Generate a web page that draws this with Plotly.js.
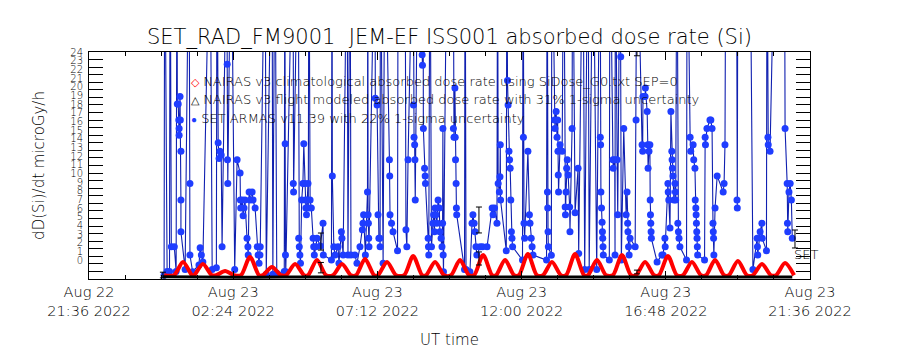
<!DOCTYPE html>
<html><head><meta charset="utf-8">
<script src="https://cdn.plot.ly/plotly-3.0.1.min.js"></script>
<style>html,body{margin:0;padding:0;background:#fff}</style>
</head><body><div id="chart" style="width:900px;height:350px"></div>
<script>
// x axis: hours since Aug 22 21:36 UT
const xTickHours = [0, 4.8, 9.6, 14.4, 19.2, 24];
const xTickLabels = ["Aug 22<br>21:36 2022", "Aug 23<br>02:24 2022", "Aug 23<br>07:12 2022",
                     "Aug 23<br>12:00 2022", "Aug 23<br>16:48 2022", "Aug 23<br>21:36 2022"];
// y tick label positions (as drawn in the reference, labels squeezed between 2 and 24)
const yTickValues = [2.0,2.92,3.83,4.75,5.67,6.58,7.5,8.42,9.33,10.25,11.17,12.08,13.0,13.92,14.83,15.75,16.67,17.58,18.5,19.42,20.33,21.25,22.17,23.08,24.0];
const yTickLabels = ["0","1","2","3","4","5","6","7","8","9","10","11","12","13","14","15","16","17","18","19","20","21","22","23","24"];

// NAIRAS v3 climatological absorbed dose rate (red)
const climHours = [2.50,2.83,3.13,3.43,3.50,3.79,4.09,4.23,4.53,4.83,5.06,5.36,5.66,5.79,6.09,6.39,6.56,6.86,7.16,7.29,7.59,7.89,
  8.12,8.42,8.72,8.89,9.19,9.49,9.62,9.92,10.22,10.49,10.79,11.09,11.22,11.52,11.82,12.05,12.35,12.65,12.82,13.12,13.42,
  13.55,13.85,14.15,14.31,14.61,14.91,15.11,15.41,15.71,15.88,16.18,16.48,16.61,16.91,17.21,17.44,17.74,18.04,18.21,18.51,
  18.81,18.97,19.27,19.57,19.77,20.07,20.37,20.54,20.84,21.14,21.30,21.60,21.90,22.10,22.40,22.70,22.87,23.17,23.47];
const climDose = [0.4,0.4,1.8,0.4,0.4,1.59,0.4,0.4,0.85,0.4,0.4,2.33,0.4,0.4,1.27,0.4,0.4,1.59,0.4,0.4,2.0,0.4,
  0.4,1.59,0.4,0.4,2.11,0.4,0.4,1.8,0.4,0.4,2.43,0.4,0.4,1.8,0.4,0.4,2.0,0.4,0.4,2.54,0.4,
  0.4,2.0,0.4,0.4,2.64,0.4,0.4,1.8,0.4,0.4,2.64,0.4,0.4,2.0,0.4,0.4,2.54,0.4,0.4,1.8,
  0.4,0.4,2.43,0.4,0.4,1.8,0.4,0.4,2.0,0.4,0.4,1.9,0.4,0.4,1.59,0.4,0.4,1.69,0.4];

// NAIRAS v3 flight modeled absorbed dose rate (black)
const flightHours = [2.46,3.5,5.0,6.5,8.0,9.5,11.0,12.5,14.0,15.5,17.0,18.5,20.0,21.5,23.41];
const flightDose  = [0.25,0.2,0.18,0.2,0.22,0.18,0.2,0.22,0.2,0.18,0.2,0.22,0.2,0.18,0.2];

// SET ARMAS v11.39 (blue); 40 = off-scale readings above the plot top
const blueHours = [
  2.50,2.52,2.60,2.68,2.70,2.74,2.84,2.90,2.93,2.94,
  2.97,2.99,3.00,3.00,3.03,3.04,3.06,3.06,3.06,3.20,
  3.33,3.36,3.36,3.45,3.66,3.70,3.74,3.79,4.03,4.10,
  4.24,4.26,4.30,4.33,4.36,4.40,4.43,4.59,4.60,4.61,
  4.62,4.73,4.85,4.93,5.03,5.04,5.05,5.10,5.13,5.16,
  5.19,5.26,5.29,5.30,5.33,5.36,5.43,5.46,5.53,5.60,
  5.63,5.66,5.69,5.70,5.86,5.90,6.09,6.12,6.19,6.25,
  6.50,6.52,6.53,6.54,6.55,6.79,6.80,6.81,6.96,6.98,
  7.00,7.02,7.04,7.08,7.12,7.15,7.18,7.20,7.22,7.24,
  7.27,7.29,7.30,7.32,7.36,7.40,7.46,7.48,7.50,7.55,
  7.59,7.70,7.79,7.80,8.07,8.09,8.10,8.15,8.19,8.29,
  8.32,8.40,8.42,8.46,8.59,8.62,8.69,8.72,8.85,8.92,
  9.02,9.10,9.12,9.14,9.20,9.27,9.28,9.29,9.30,9.31,
  9.32,9.52,9.53,9.59,9.62,9.65,9.68,9.69,9.70,9.79,
  9.85,10.00,10.01,10.02,10.07,10.12,10.27,10.29,10.52,10.55,
  10.58,10.62,10.79,10.80,10.82,10.84,10.85,10.86,10.95,11.09,
  11.10,11.12,11.13,11.17,11.19,11.20,11.29,11.30,11.31,11.35,
  11.40,11.45,11.47,11.50,11.52,11.55,11.58,11.62,11.66,11.68,
  11.72,11.75,11.77,11.78,11.79,11.80,11.92,12.12,12.13,12.15,
  12.18,12.19,12.20,12.22,12.23,12.24,12.50,12.52,12.55,12.68,
  12.75,12.78,12.82,12.85,12.88,12.91,13.02,13.10,13.25,13.42,
  13.45,13.50,13.58,13.60,13.62,13.66,13.68,13.69,13.70,13.89,
  13.91,13.93,13.95,13.98,14.00,14.02,14.04,14.06,14.08,14.10,
  14.43,14.45,14.46,14.48,14.50,14.61,14.66,14.68,14.72,14.75,
  14.78,15.23,15.25,15.26,15.27,15.28,15.29,15.39,15.41,15.50,
  15.51,15.55,15.58,15.60,15.61,15.62,15.63,15.68,15.75,15.80,
  15.85,15.86,15.88,15.90,15.92,15.95,16.00,16.01,16.08,16.10,
  16.18,16.28,16.30,16.44,16.50,16.61,16.65,16.78,16.90,17.01,
  17.02,17.03,17.04,17.06,17.08,17.09,17.10,17.11,17.12,17.32,
  17.34,17.44,17.45,17.50,17.51,17.52,17.58,17.60,17.68,17.70,
  17.72,17.80,17.88,17.91,17.93,17.94,17.96,17.98,18.01,18.18,
  18.21,18.24,18.41,18.43,18.44,18.51,18.52,18.58,18.60,18.61,
  18.64,18.67,18.68,18.69,18.70,18.71,18.72,18.91,19.07,19.11,
  19.17,19.18,19.27,19.28,19.30,19.34,19.37,19.40,19.41,19.42,
  19.44,19.47,19.51,19.52,19.53,19.57,19.60,19.62,19.64,19.67,
  19.89,19.91,20.01,20.03,20.11,20.13,20.17,20.18,20.20,20.21,
  20.22,20.23,20.24,20.25,20.26,20.49,20.51,20.52,20.57,20.67,
  20.70,20.74,20.77,20.78,20.79,20.80,20.84,20.91,21.11,21.14,
  21.17,21.20,21.55,21.57,21.58,21.60,22.00,22.10,22.24,22.25,
  22.26,22.34,22.40,22.41,22.55,22.57,22.60,22.61,22.67,22.84,
  23.15,23.17,23.24,23.25,23.26,23.30,23.34,23.38,23.41];
const blueDose = [
  0.4,40,0.8,0.8,40,3.4,3.4,0.8,40,18.5,
  18.5,16.8,15.9,15.2,19.3,16.8,13.5,8.35,5.0,1.0,
  40,10.1,2.54,0.77,1.48,3.3,2.54,1.8,40,1.0,
  1.2,40,14.4,12.75,13.5,13.1,3.4,40,22.7,12.6,
  10.1,40,1.0,12.6,11.2,8.35,7.5,8.35,6.7,7.5,
  8.35,4.3,3.4,2.54,9.2,8.35,9.2,8.35,7.5,3.4,
  2.54,1.66,2.54,3.4,40,0.5,40,0.5,40,0.6,
  0.8,40,14.3,2.54,0.77,40,10.1,9.2,40,4.3,
  3.4,2.54,1.66,8.35,10.1,14.3,10.1,8.35,7.5,6.8,
  8.35,10.1,7.5,40,8.35,7.5,4.3,3.4,2.54,3.4,
  4.3,3.5,5.9,2.54,2.0,40,10.9,3.4,2.54,3.4,
  1.66,5.0,4.3,2.54,40,2.54,40,2.54,2.54,1.66,
  3.4,5.2,5.9,6.8,2.54,9.2,40,6.8,5.9,4.3,
  3.4,40,19.1,18.4,6.8,4.3,4.3,3.4,40,1.66,
  40,12.6,10.9,6.8,5.9,5.0,3.0,40,40,5.2,
  3.4,12.6,40,18.4,15.0,14.2,12.6,8.35,40,23.7,
  22.6,40,15.9,11.7,10.9,10.1,4.3,3.4,2.54,40,
  3.4,5.9,6.8,5.0,7.5,6.8,5.9,8.35,7.5,5.0,
  4.3,3.4,5.9,15.9,2.54,0.77,40,40,15.9,15.0,
  20.2,15.0,12.6,10.1,7.5,6.8,1.0,40,1.0,0.77,
  5.9,6.8,5.9,5.0,3.4,2.54,3.4,3.4,3.4,7.5,
  6.8,7.5,5.9,40,10.1,9.2,10.8,14.2,8.35,3.0,
  40,21.0,18.4,13.5,12.6,11.7,8.35,5.0,4.3,3.4,
  2.0,40,15.0,5.9,4.3,13.5,6.8,5.9,4.3,3.4,
  2.54,2.0,40,9.2,7.5,5.0,3.4,2.5,40,16.8,
  15.9,17.7,15.0,16.8,13.5,11.0,9.2,14.2,13.5,40,
  7.6,6.8,9.2,11.7,12.6,11.0,7.6,5.0,15.9,40,
  7.0,11.7,2.7,40,1.0,40,1.0,40,1.0,40,
  15.0,14.2,9.2,7.5,6.0,5.0,4.3,3.4,2.54,2.0,
  40,12.6,11.7,12.6,2.54,40,12.6,6.8,40,23.5,
  2.0,15.9,6.8,9.2,5.9,5.0,3.4,2.54,4.3,3.4,
  16.8,40,14.2,13.5,19.3,19.3,20.2,17.7,14.2,11.7,
  13.5,14.2,8.35,6.8,5.9,5.0,4.3,1.8,2.54,2.54,
  4.3,3.4,10.1,9.2,8.35,5.4,17.7,13.5,12.6,11.7,
  10.9,8.35,10.1,9.2,8.35,40,5.9,5.0,4.3,3.4,
  2.0,40,15.0,13.5,14.2,12.6,11.7,8.35,7.5,6.8,
  5.9,5.0,4.3,3.4,2.54,2.0,15.0,14.2,15.9,16.8,
  16.8,15.9,5.9,5.0,4.3,2.54,7.5,10.9,9.2,10.1,
  14.2,40,40,8.35,7.5,40,40,1.0,4.3,3.4,
  2.54,5.0,5.9,4.3,3.0,40,15.0,14.2,13.5,40,
  40,15.9,10.1,5.9,5.0,9.2,10.1,8.35,4.3];

// occasional 1-sigma uncertainty bars
const errHours = [2.46, 7.72, 7.72, 12.98, 12.98, 18.24, 18.24, 23.5];
const errDose  = [0.42, 3.96, 1.2, 6.24, 2.17, 0.74, 23.9, 4.23];
const errSigma = [0.3, 0.9, 0.55, 1.37, 0.69, 0.2, 0.3, 0.95];

const legendLines = [
  '<span style="color:#ff0000;font-size:11px">◇</span> NAIRAS v3 climatological absorbed dose rate using SiDose_G0.txt SEP=0',
  '<span style="font-size:11px">△</span> NAIRAS v3 flight modeled absorbed dose rate with 31% 1-sigma uncertainty',
  '<span style="color:#1f3dff;font-size:10px">●</span> SET ARMAS v11.39 with 22% 1-sigma uncertainty'
];

const FONT = 'DejaVu Sans, sans-serif';
const W = 200;

const traces = [
  {x: blueHours, y: blueDose, type: 'scatter', mode: 'lines+markers',
   line: {color: '#1020b0', width: 1.1}, marker: {color: '#1f3dff', size: 7, symbol: 'circle'}},
  {x: flightHours, y: flightDose, type: 'scatter', mode: 'lines', yaxis: 'y2',
   line: {color: '#000000', width: 3}},
  {x: climHours, y: climDose, type: 'scatter', mode: 'lines',
   line: {color: '#ff0000', width: 4, shape: 'spline', smoothing: 0.8}},
  {x: errHours, y: errDose, type: 'scatter', mode: 'markers',
   marker: {color: 'rgba(0,0,0,0)', size: 2},
   error_y: {type: 'data', array: errSigma, visible: true, color: '#000000', thickness: 1, width: 3}}
];

const annotations = legendLines.map((t, i) => ({
  text: t, xref: 'paper', yref: 'paper', x: 0.1387, y: [0.872, 0.789, 0.705][i],
  xanchor: 'left', yanchor: 'middle', showarrow: false, font: {family: FONT, size: 13, color: '#000', weight: W}
}));
annotations.push({text: 'SET', xref: 'paper', yref: 'paper', x: 0.9945, y: 0.106,
  xanchor: 'center', yanchor: 'middle', showarrow: false, font: {family: FONT, size: 13, color: '#000', weight: W}});

const layout = {
  width: 900, height: 350,
  margin: {l: 89, r: 90, t: 52, b: 71},
  paper_bgcolor: '#ffffff', plot_bgcolor: '#ffffff',
  font: {family: FONT, color: '#000000', size: 14, weight: W},
  showlegend: false,
  title: {text: 'SET_RAD_FM9001\u00a0\u00a0JEM-EF ISS001 absorbed dose rate (Si)',
          font: {family: FONT, size: 21, color: '#000', weight: W},
          x: 0.5, xref: 'paper', xanchor: 'center', y: 0.894, yref: 'container', yanchor: 'middle'},
  xaxis: {range: [0, 24], tickmode: 'array', tickvals: xTickHours, ticktext: xTickLabels,
          ticks: 'inside', ticklen: 8, tickcolor: '#000', tickwidth: 1,
          showline: true, linecolor: '#000', linewidth: 1, mirror: 'ticks',
          showgrid: false, zeroline: false, tickfont: {size: 14.5, weight: W},
          minor: {tick0: 0, dtick: 1.2, ticks: 'inside', ticklen: 4, tickcolor: '#000'},
          title: {text: 'UT time', font: {size: 15, weight: W}, standoff: 16}},
  yaxis: {range: [0, 24], tickmode: 'linear', tick0: 0, dtick: 0.8,
          ticks: 'inside', ticklen: 14, tickcolor: '#000', showticklabels: false,
          showline: true, linecolor: '#000', linewidth: 1, mirror: 'ticks',
          showgrid: false, zeroline: false},
  yaxis2: {range: [0, 24], overlaying: 'y', side: 'left', tickmode: 'array',
           tickvals: yTickValues, ticktext: yTickLabels, tickangle: 0,
           ticks: '', showline: false, showgrid: false, zeroline: false,
           ticklabelstandoff: 5,
           tickfont: {size: 10, weight: W},
           title: {text: 'dD(Si)/dt microGy/h', font: {size: 15, weight: W}, standoff: 22}},
  annotations: annotations
};

Plotly.newPlot('chart', traces, layout, {displayModeBar: false, staticPlot: true});
</script>
</body></html>
